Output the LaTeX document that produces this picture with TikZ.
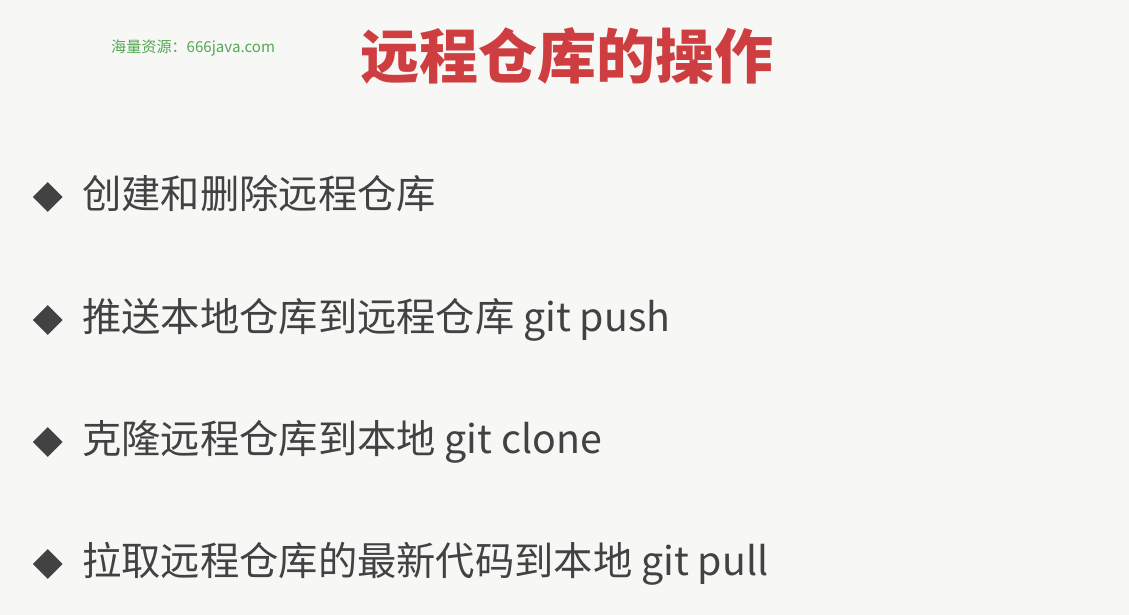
\documentclass[tikz,border=0pt]{standalone}
\usepackage{fontspec}
\setmainfont{Noto Sans CJK SC}
\usetikzlibrary{shapes.geometric, positioning}
\definecolor{BgColor}{RGB}{247, 247, 245}
\definecolor{TitleColor}{RGB}{206, 62, 64}
\definecolor{TextColor}{RGB}{66, 66, 66}
\definecolor{MarkColor}{RGB}{84, 168, 84}
\tikzset{
    item/.style={
        text=TextColor,
        font=\fontsize{39.3}{45}\selectfont,
        anchor=west,
        inner sep=0pt,
        text height=31pt,
        text depth=8pt
    },
    bullet/.style={
        diamond,
        fill=TextColor,
        minimum width=30pt,
        minimum height=30pt,
        inner sep=0pt
    }
}

\begin{document}
\begin{tikzpicture}[x=1pt, y=-1pt]

    % background and page size
    \fill[BgColor] (0,0) rectangle (1129,615);
    \useasboundingbox (0,0) rectangle (1129,615);

    % ============================================================================
    % HEADER
    % ============================================================================

    % Watermark
    \node[text=MarkColor, font=\fontsize{15.1}{17}\selectfont, anchor=west, inner sep=0pt] (Mark) at (111,48) {海量资源：666java.com};

    % Title
    \node[text=TitleColor, font=\fontsize{59}{68}\bfseries, inner sep=0pt] (Title) at (567,56) {远程仓库的操作};

    % ============================================================================
    % ITEMS
    % ============================================================================

    \node[item] (Create) at (82,197) {创建和删除远程仓库};
    \node[item, below=123pt of Create.west, anchor=west] (Push) {推送本地仓库到远程仓库 git push};
    \node[item, below=122pt of Push.west, anchor=west] (Clone) {克隆远程仓库到本地 git clone};
    \node[item, below=122pt of Clone.west, anchor=west] (Pull) {拉取远程仓库的最新代码到本地 git pull};

    % Bullets
    \node[bullet, left=19pt of Create] (CreateMark) {};
    \node[bullet, left=19pt of Push] (PushMark) {};
    \node[bullet, left=19pt of Clone] (CloneMark) {};
    \node[bullet, left=19pt of Pull] (PullMark) {};

\end{tikzpicture}
\end{document}
